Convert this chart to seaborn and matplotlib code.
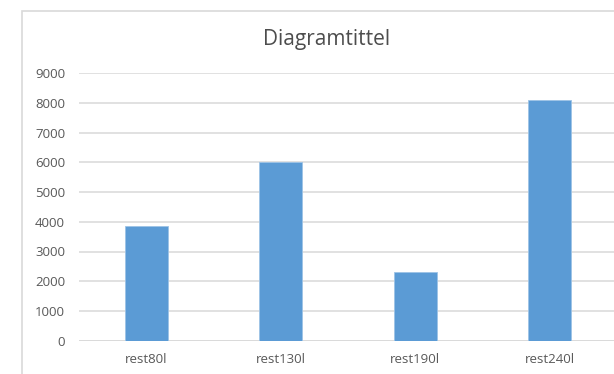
import matplotlib
matplotlib.use("Agg")
import matplotlib.pyplot as plt
import seaborn as sns
import pandas as pd
from matplotlib.patches import Rectangle

categories = ["rest80l", "rest130l", "rest190l", "rest240l"]
values = [3850, 6030, 2300, 8090]
y_ticks = [0, 1000, 2000, 3000, 4000, 5000, 6000, 7000, 8000, 9000]
title = "Diagramtittel"

sns.set_style("white")
plt.rcParams["font.family"] = ["Open Sans", "DejaVu Sans"]

df = pd.DataFrame({"category": categories, "value": values})

W, H = 614, 374
fig = plt.figure(figsize=(W / 100, H / 100), dpi=100)
fig.patch.set_facecolor("white")

# chart frame, open to the right and bottom edges
fig.add_artist(Rectangle((22 / W, -0.1), 1.2, 1.1 - 11 / H,
                         transform=fig.transFigure, fill=False,
                         edgecolor="#d9d9d9", linewidth=1.2))

left, right = 79, 617
top, bottom = 73.3, 340.6
ax = fig.add_axes([left / W, 1 - bottom / H, (right - left) / W, (bottom - top) / H])

sns.barplot(data=df, x="category", y="value", color="#5b9bd5", width=0.32,
            saturation=1, ax=ax, zorder=3, edgecolor="#9dc3e6", linewidth=0.6)

ax.set_ylim(0, 9000)
ax.set_xlim(-0.5, len(categories) - 0.5)
ax.set_yticks(y_ticks)
ax.set_yticklabels([str(t) for t in y_ticks])
ax.yaxis.grid(True, color="#d9d9d9", linewidth=1.1, zorder=0)
ax.set_axisbelow(True)
for s in ax.spines.values():
    s.set_visible(False)
ax.axhline(0, color="#d9d9d9", linewidth=1.1, zorder=1)
ax.tick_params(axis="both", length=0, labelsize=9.5, labelcolor="#595959")
ax.tick_params(axis="y", pad=10)
ax.tick_params(axis="x", pad=9)
ax.set_xlabel("")
ax.set_ylabel("")

fig.text(327 / W, 1 - 40 / H, title, ha="center", va="center",
         fontsize=15, color="#4d4d4d")

fig.savefig("out.png", dpi=100, facecolor="white")
